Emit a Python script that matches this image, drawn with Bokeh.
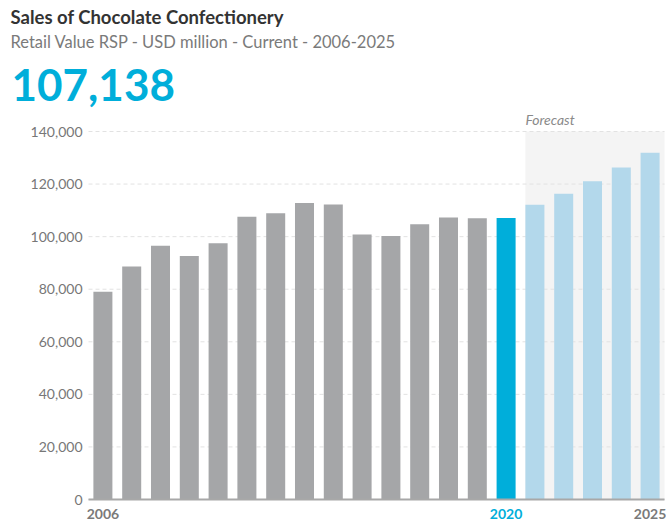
from bokeh.plotting import figure
from bokeh.models import Range1d, BoxAnnotation, ColumnDataSource
from bokeh.core.properties import value
from bokeh.embed import file_html
from bokeh.resources import INLINE

years = list(range(2006, 2026))
values = [79000, 88600, 96500, 92600, 97500, 107600, 108900, 112800, 112200, 100800,
          100200, 104700, 107300, 107000, 107138, 112100, 116300, 121100, 126300, 131900]
kinds = ["hist"] * 14 + ["current"] + ["forecast"] * 5
y_ticks = [0, 20000, 40000, 60000, 80000, 100000, 120000, 140000]
x_tick_years = [2006, 2020, 2025]
x_tick_kinds = ["hist", "current", "hist"]
first_forecast = 2021
title_text = "Sales of Chocolate Confectionery"
subtitle_text = "Retail Value RSP - USD million - Current - 2006-2025"
headline_text = "107,138"
forecast_text = "Forecast"

palette = {"hist": "#A5A6A8", "current": "#00AEDA", "forecast": "#B3D8EB"}
label_palette = {"hist": "#7A7A7A", "current": "#00AEDA"}
colors = [palette[k] for k in kinds]

FONT = value("Lato")
W, H = 666, 521
# plot-area geometry (pixels in the page)
AREA_L, AREA_R, AREA_B = 88, 664, 499
XPX = (AREA_R - AREA_L) / len(years)     # pixels per year
YPX = 368 / 140000                       # pixels per unit of value
x_lo, x_hi = years[0] - 0.5, years[-1] + 0.5

p = figure(width=W, height=H,
           x_range=Range1d(x_lo - AREA_L / XPX, x_hi + (W - AREA_R) / XPX),
           y_range=Range1d(-(H - AREA_B) / YPX, AREA_B / YPX),
           output_backend="svg", toolbar_location=None, title_location=None,
           min_border=0, min_border_left=0, min_border_right=0,
           min_border_top=0, min_border_bottom=0)
p.axis.visible = False
p.grid.visible = False
p.outline_line_color = None

def px_x(px):
    return x_lo + (px - AREA_L) / XPX

def px_y(py):
    return (AREA_B - py) / YPX

# forecast shading
p.add_layout(BoxAnnotation(left=first_forecast - 0.33, right=x_hi, bottom=0, top=y_ticks[-1],
                           fill_color="#F4F4F4", fill_alpha=1, line_color=None, level="image"))

# grid lines
p.segment(x0=[x_lo] * len(y_ticks), x1=[x_hi] * len(y_ticks), y0=y_ticks, y1=y_ticks,
          line_color="#E2E2E2", line_width=1, line_dash="4 3")

# bars
src = ColumnDataSource(dict(x=years, top=values, color=colors))
p.vbar(x="x", top="top", width=0.66, source=src, fill_color="color", line_color=None)

# x axis line
p.segment(x0=[x_lo], x1=[x_hi], y0=[0], y1=[0], line_color="#A8A8A8", line_width=2)

# y tick labels
p.text(x=[x_lo] * len(y_ticks), y=y_ticks, text=[f"{v:,}" for v in y_ticks],
       x_offset=-6, text_align="right", text_baseline="middle",
       text_font=FONT, text_font_size="14px", text_color="#777777")

# x tick labels
p.text(x=x_tick_years, y=[0] * len(x_tick_years), text=[str(y) for y in x_tick_years],
       y_offset=14, text_align="center", text_baseline="middle",
       text_font=FONT, text_font_size="14px", text_font_style="bold",
       text_color=[label_palette[k] for k in x_tick_kinds])

# forecast label
p.text(x=[first_forecast - 0.33], y=[y_ticks[-1]], text=[forecast_text], y_offset=-12,
       text_align="left", text_baseline="middle",
       text_font=FONT, text_font_size="14px", text_font_style="italic", text_color="#8A8A8A")

# headings
p.text(x=[px_x(10)], y=[px_y(16)], text=[title_text], text_baseline="middle",
       text_font=FONT, text_font_size="18.5px", text_font_style="bold", text_color="#333333")
p.text(x=[px_x(10)], y=[px_y(41.5)], text=[subtitle_text], text_baseline="middle",
       text_font=FONT, text_font_size="16.5px", text_color="#7A7A7A")
p.text(x=[px_x(11)], y=[px_y(84)], text=[headline_text], text_baseline="middle",
       text_font=FONT, text_font_size="44px", text_font_style="bold", text_color="#00AEDA")

open("out.html", "w").write(file_html(p, INLINE))
